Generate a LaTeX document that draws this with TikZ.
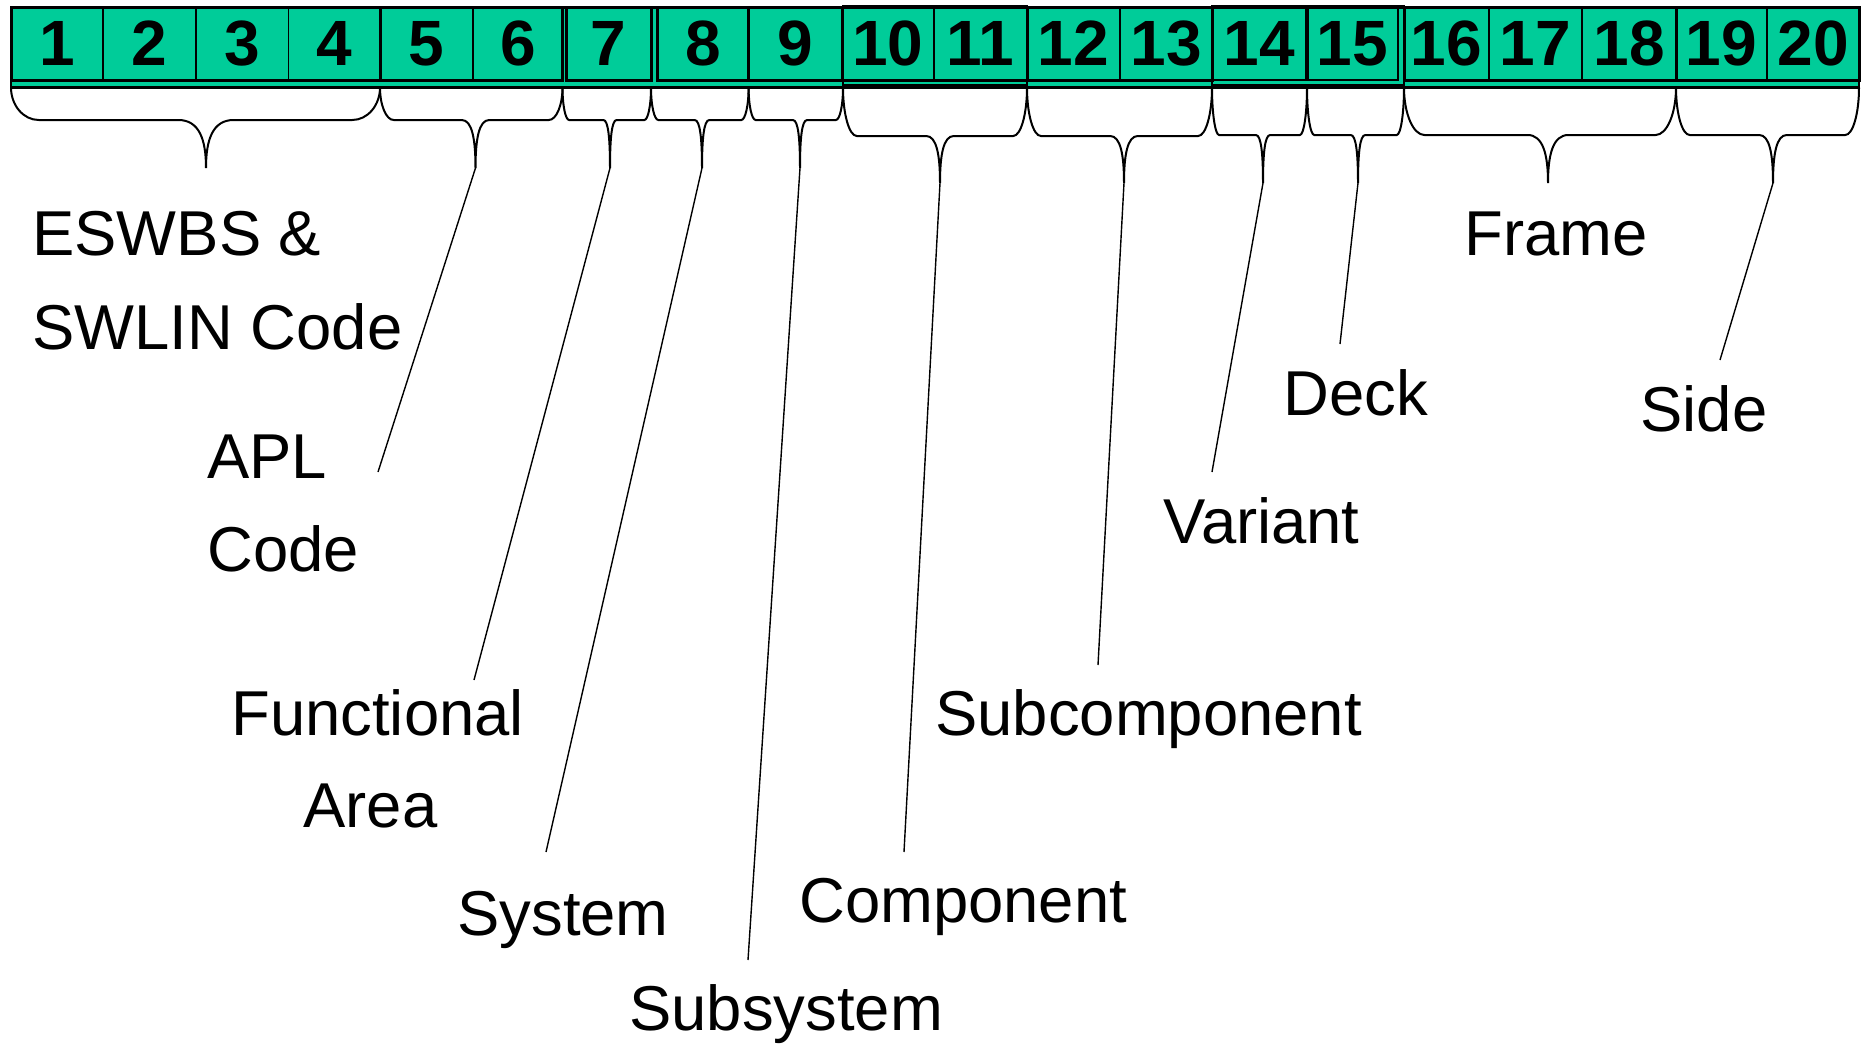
\documentclass[tikz,border=0pt]{standalone}
\usepackage{fontspec}
\setmainfont{Liberation Sans}
\definecolor{codegreen}{RGB}{0,204,153}
\begin{document}
\begin{tikzpicture}[x=0.5pt,y=-0.5pt,
  cellnum/.style={font=\fontsize{32}{38}\selectfont\bfseries, anchor=base, inner sep=0pt},
  fieldtext/.style={font=\fontsize{31.7}{38}\selectfont, anchor=base west, inner sep=0pt},
  groupbox/.style={draw=black, line width=1.5pt},
  thinbox/.style={draw=black, line width=0.8pt},
  divider/.style={draw=black, line width=0.8pt},
  bracepath/.style={draw=black, line width=1pt},
  leader/.style={draw=black, line width=0.7pt}]
\useasboundingbox (0,0) rectangle (1864,1044);

% code bar: background strip and field groups
\draw[fill=codegreen, line width=1.2pt] (11,7.5) rectangle (1859,87.5);
\draw[thinbox] (843,5.5) rectangle (1027,85);
\draw[thinbox] (1212,5.5) rectangle (1404,85);
\foreach \xa/\xb in {11/380, 380/562.5, 566/651, 657/842, 842/1027, 1027/1212, 1404/1676, 1676/1859}
  \draw[groupbox] (\xa,7.5) rectangle (\xb,80);
\foreach \xa/\xb in {1212/1306, 1308/1398}
  \draw[line width=1.1pt] (\xa,7.5) rectangle (\xb,80);
\foreach \xx in {103, 196, 288.6, 473, 934, 1120, 1489, 1582, 1767}
  \draw[divider] (\xx,7.5) -- (\xx,80);
\draw[line width=1.2pt] (748.6,7.5) -- (748.6,80);

% position numbers
\foreach \cx [count=\i] in {57, 149.5, 242, 334, 426.5, 518, 608.5, 703, 795, 888,
                            980.5, 1073.5, 1166, 1259.5, 1352.5, 1446.5, 1535.5, 1629, 1721.5, 1813}
  \node[cellnum] (n\i) at (\cx,65) {\i};

% curly braces under each field: left, right, tip x, flat y, tip y
\foreach \xl/\xr/\xt/\yh/\yt/\nm in {
    11/380/206/120/168/b1, 380/562.5/475.5/120/168/b2, 562.5/651/610/120/168/b3,
    651/748.6/702/120/168/b4, 748.6/843/800/120/168/b5,
    843/1027/940/136/183/b6, 1027/1212/1124/136/183/b7,
    1212/1307/1263/135/183/b8, 1307/1404/1358/135/183/b9,
    1404/1676/1548/135/183/b10, 1676/1859/1773/135/183/b11}{
  \pgfmathsetmacro\rr{0.075*(\xr-\xl)}
  \pgfmathsetmacro\ym{87.5+0.55*(\yh-87.5)}
  \pgfmathsetmacro\yc{\yh+0.4*(\yt-\yh)}
  \draw[bracepath] (\xl,87.5) .. controls (\xl,\ym) and ({\xl+0.45*\rr},\yh) .. ({\xl+\rr},\yh)
    -- ({\xt-\rr},\yh) .. controls ({\xt-0.25*\rr},\yh) and (\xt,\yc) .. (\xt,\yt)
    .. controls (\xt,\yc) and ({\xt+0.25*\rr},\yh) .. ({\xt+\rr},\yh)
    -- ({\xr-\rr},\yh) .. controls ({\xr-0.45*\rr},\yh) and (\xr,\ym) .. (\xr,87.5);
  \coordinate (\nm) at (\xt,\yt);
}

% field names
\node[fieldtext] (eswbs) at (32,255) {ESWBS \&};
\node[fieldtext] (swlin) at (32,349) {SWLIN Code};
\node[fieldtext] (apl) at (207,478) {APL};
\node[fieldtext] (aplcode) at (207,571) {Code};
\node[fieldtext] (func) at (231,735) {Functional};
\node[fieldtext] (area) at (303,827) {Area};
\node[fieldtext] (system) at (457,935) {System};
\node[fieldtext] (subsystem) at (629,1030) {Subsystem};
\node[fieldtext] (component) at (799,922) {Component};
\node[fieldtext] (subcomp) at (935,735) {Subcomponent};
\node[fieldtext] (variant) at (1163,543) {Variant};
\node[fieldtext] (deck) at (1283,415) {Deck};
\node[fieldtext] (frame) at (1464,255) {Frame};
\node[fieldtext] (side) at (1640,431) {Side};

% leader line ends
\coordinate (aplend) at (378,472);
\coordinate (funcend) at (474,680);
\coordinate (sysend) at (546,852);
\coordinate (subsysend) at (748,960);
\coordinate (compend) at (904,852);
\coordinate (subcompend) at (1098,665);
\coordinate (varend) at (1212,472);
\coordinate (deckend) at (1340,344);
\coordinate (sideend) at (1720,360);

% leaders from brace tips to the names
\draw[leader] (b2) -- (aplend);
\draw[leader] (b3) -- (funcend);
\draw[leader] (b4) -- (sysend);
\draw[leader] (b5) -- (subsysend);
\draw[leader] (b6) -- (compend);
\draw[leader] (b7) -- (subcompend);
\draw[leader] (b8) -- (varend);
\draw[leader] (b9) -- (deckend);
\draw[leader] (b11) -- (sideend);
\end{tikzpicture}
\end{document}
